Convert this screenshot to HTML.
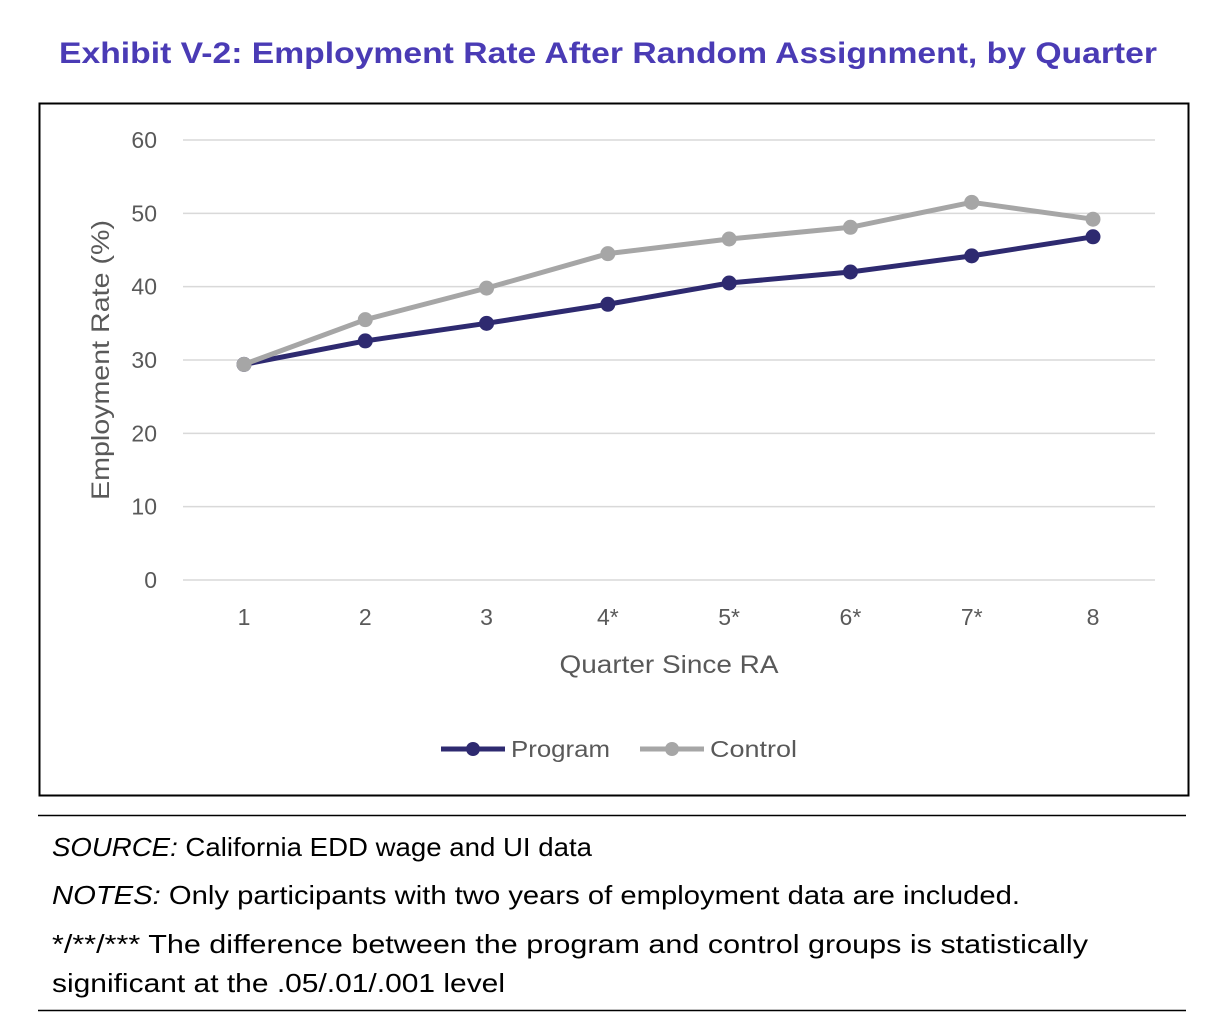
<!DOCTYPE html>
<html><head><meta charset="utf-8"><style>
body{margin:0;width:1216px;height:1030px;background:#fff;font-family:"Liberation Sans",sans-serif;position:relative;overflow:hidden}
</style></head><body>
<svg width="1216" height="1030" style="position:absolute;left:0;top:0" id="svg" font-family="Liberation Sans, sans-serif">
<text x="59" y="63" textLength="1098" lengthAdjust="spacingAndGlyphs" font-size="30" font-weight="bold" fill="#4a3bb5">Exhibit V-2: Employment Rate After Random Assignment, by Quarter</text>
<rect x="39.5" y="103.5" width="1149" height="692" fill="none" stroke="#000" stroke-width="2"/>
<g id="grid"></g><g id="series"></g>
<text x="109" y="360" transform="rotate(-90 109 360)" text-anchor="middle" textLength="280" lengthAdjust="spacingAndGlyphs" font-size="25" fill="#595959">Employment Rate (%)</text>
<text x="669" y="673" text-anchor="middle" textLength="219" lengthAdjust="spacingAndGlyphs" font-size="25" fill="#595959">Quarter Since RA</text>
<g><line x1="441" y1="749" x2="505" y2="749" stroke="#2e2a70" stroke-width="5"/><circle cx="473" cy="749" r="7" fill="#2e2a70"/><text x="511" y="757" textLength="99" lengthAdjust="spacingAndGlyphs" font-size="23" fill="#595959">Program</text></g>
<g><line x1="640" y1="749" x2="704" y2="749" stroke="#a6a6a6" stroke-width="5"/><circle cx="672" cy="749" r="7" fill="#a6a6a6"/><text x="710" y="757" textLength="87" lengthAdjust="spacingAndGlyphs" font-size="23" fill="#595959">Control</text></g>
<line x1="38" y1="815.5" x2="1186" y2="815.5" stroke="#000" stroke-width="1.5"/>
<line x1="38" y1="1010.5" x2="1186" y2="1010.5" stroke="#000" stroke-width="1.5"/>
<text x="52" y="856" textLength="540" lengthAdjust="spacingAndGlyphs" font-size="26"><tspan font-style="italic">SOURCE:</tspan> California EDD wage and UI data</text>
<text x="52" y="904" textLength="968" lengthAdjust="spacingAndGlyphs" font-size="26"><tspan font-style="italic">NOTES:</tspan> Only participants with two years of employment data are included.</text>
<text x="52" y="953" textLength="1036" lengthAdjust="spacingAndGlyphs" font-size="26">*/**/*** The difference between the program and control groups is statistically</text>
<text x="52" y="992" textLength="453" lengthAdjust="spacingAndGlyphs" font-size="26">significant at the .05/.01/.001 level</text>
</svg>
<script>
const categories=["1","2","3","4*","5*","6*","7*","8"];
const programValues=[29.4,32.6,35.0,37.6,40.5,42.0,44.2,46.8];
const controlValues=[29.4,35.5,39.8,44.5,46.5,48.1,51.5,49.2];
const yTicks=[0,10,20,30,40,50,60];
const NS="http://www.w3.org/2000/svg";
const x=i=>244+i*(1093-244)/7;
const y=v=>580-v*(440/60);
const grid=document.getElementById('grid'),ser=document.getElementById('series');
function mk(tag,a,p){const e=document.createElementNS(NS,tag);for(const k in a)e.setAttribute(k,a[k]);p.appendChild(e);return e;}
yTicks.forEach(t=>{
 const l=mk('line',{x1:183,x2:1155,y1:y(t),y2:y(t),stroke:'#d9d9d9','stroke-width':1.5},grid);
 
 
 const tx=mk('text',{x:157,y:y(t)+8,'text-anchor':'end','font-size':23,fill:'#595959'},grid);tx.textContent=t;
 
 
});
categories.forEach((c,i)=>{
 const tx=mk('text',{x:x(i),y:625,'text-anchor':'middle','font-size':23,fill:'#595959'},grid);tx.textContent=c;
 
 
});
function series(vals,col,name){
 const p=mk('polyline',{points:vals.map((v,i)=>x(i)+','+y(v)).join(' '),fill:'none',stroke:col,'stroke-width':5,'stroke-linejoin':'round'},ser);
 
 
 vals.forEach((v,i)=>{const c=mk('circle',{cx:x(i),cy:y(v),r:7.5,fill:col},ser);
 
 });
}
series(programValues,'#2e2a70','program');
series(controlValues,'#a6a6a6','control');
</script>
</body></html>
